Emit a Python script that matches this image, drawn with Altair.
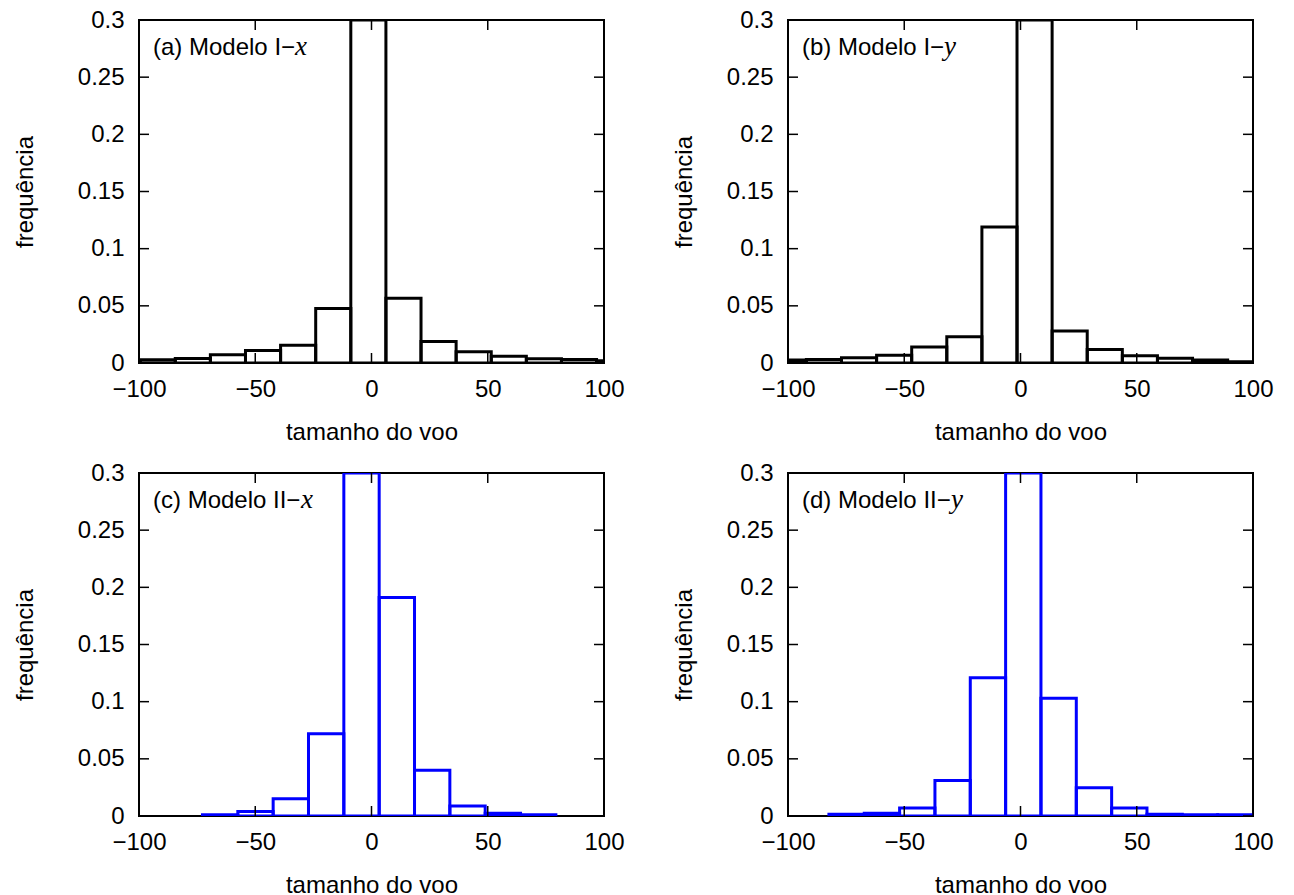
import altair as alt
import pandas as pd

# ---- data (bin left edges, bin width, frequencies) ----
a_left = [-114.6, -99.5, -84.4, -69.3, -54.2, -39.1, -24.0, -8.9, 6.2, 21.3, 36.4, 51.5, 66.6, 81.7, 96.8]
a_width = 15.1
a_freq = [0.002, 0.0029, 0.004, 0.0072, 0.011, 0.0156, 0.0477, 0.3, 0.0566, 0.0188, 0.0098, 0.006, 0.0038, 0.003, 0.002]

b_left = [-107.2, -92.1, -77.0, -61.9, -46.8, -31.7, -16.6, -1.5, 13.6, 28.7, 43.8, 58.9, 74.0, 89.1]
b_width = 15.1
b_freq = [0.0026, 0.0031, 0.0045, 0.0068, 0.014, 0.023, 0.119, 0.3, 0.028, 0.0118, 0.0063, 0.0041, 0.0027, 0.0012]

c_left = [-72.7, -57.5, -42.3, -27.1, -11.9, 3.3, 18.5, 33.7, 48.9, 64.1]
c_width = 15.2
c_freq = [0.001, 0.004, 0.015, 0.072, 0.3, 0.191, 0.040, 0.0087, 0.0023, 0.001]

d_left = [-82.4, -67.2, -52.0, -36.8, -21.6, -6.4, 8.8, 24.0, 39.2, 54.4, 69.6, 84.8]
d_width = 15.2
d_freq = [0.0015, 0.0023, 0.007, 0.031, 0.121, 0.3, 0.103, 0.0247, 0.007, 0.0015, 0.001, 0.001]

x_ticks = [-100, -50, 0, 50, 100]
y_ticks = [0, 0.05, 0.1, 0.15, 0.2, 0.25, 0.3]

labels = ["(a) Modelo I\u2212", "(b) Modelo I\u2212", "(c) Modelo II\u2212", "(d) Modelo II\u2212"]
variables = ["x", "y", "x", "y"]

W, H = 465, 343
TICK = 10
FONT = "Liberation Sans"

XS = alt.Scale(domain=[-100, 100], nice=False, zero=False, padding=0)
YS = alt.Scale(domain=[0, 0.3], nice=False, zero=False, padding=0)
XAX = alt.Axis(values=x_ticks, title="tamanho do voo", labelOverlap=False, labelFlush=False)


def yaxis(title_pad):
    return alt.Axis(values=y_ticks, title="frequência", format="~g",
                    labelOverlap=False, labelFlush=False, titlePadding=title_pad)


def panel(left, width, freq, color, prefix, var, var_x, title_pad):
    yax = yaxis(title_pad)

    def xenc():
        return alt.X("x0:Q", scale=XS, axis=XAX)

    def yenc():
        return alt.Y("f:Q", scale=YS, axis=yax)

    df = pd.DataFrame({"x0": left, "x1": [l + width for l in left], "f": freq})

    bars = alt.Chart(df).mark_rect(
        fillOpacity=0, stroke=color, strokeWidth=3, clip=True
    ).encode(
        x=xenc(),
        x2="x1:Q",
        y=yenc(),
        y2=alt.datum(0),
    )

    xt = pd.DataFrame({"x0": x_ticks})
    yt = pd.DataFrame({"f": y_ticks})
    rule = dict(color="black", strokeWidth=1.5)
    xb = alt.Chart(xt).mark_rule(**rule).encode(
        x=xenc(), y=alt.value(H), y2=alt.value(H - TICK))
    xtp = alt.Chart(xt).mark_rule(**rule).encode(
        x=xenc(), y=alt.value(0), y2=alt.value(TICK))
    yl = alt.Chart(yt).mark_rule(**rule).encode(
        y=yenc(), x=alt.value(0), x2=alt.value(TICK))
    yr = alt.Chart(yt).mark_rule(**rule).encode(
        y=yenc(), x=alt.value(W - TICK), x2=alt.value(W))

    lab = alt.Chart(pd.DataFrame({"t": [prefix]})).mark_text(
        align="left", baseline="middle", font=FONT, fontSize=24, color="black"
    ).encode(text="t:N", x=alt.value(14), y=alt.value(28))
    vlab = alt.Chart(pd.DataFrame({"t": [var]})).mark_text(
        align="left", baseline="middle", font="Liberation Serif", fontStyle="italic",
        fontSize=27, color="black"
    ).encode(text="t:N", x=alt.value(14 + var_x), y=alt.value(27))

    return alt.layer(bars, xb, xtp, yl, yr, lab, vlab).properties(width=W, height=H)


pa = panel(a_left, a_width, a_freq, "black", labels[0], variables[0], 142, 40)
pb = panel(b_left, b_width, b_freq, "black", labels[1], variables[1], 142, 30)
pc = panel(c_left, c_width, c_freq, "#0000ff", labels[2], variables[2], 148, 40)
pd_ = panel(d_left, d_width, d_freq, "#0000ff", labels[3], variables[3], 149, 30)

chart = alt.vconcat(
    alt.hconcat(pa, pb, spacing=45),
    alt.hconcat(pc, pd_, spacing=45),
    spacing=15,
).properties(
    padding={"left": 12, "top": 7, "right": 5, "bottom": 0},
    background="white",
).configure_view(
    stroke="black", strokeWidth=2
).configure_axis(
    labelFont=FONT, labelFontSize=24, labelColor="black",
    titleFont=FONT, titleFontSize=24, titleFontWeight="normal", titleColor="black",
    ticks=False, domain=False, grid=False,
).configure_axisX(
    labelPadding=14, titlePadding=19
).configure_axisY(
    labelPadding=15
)

chart.save("out.html", embed_options={"renderer": "svg", "actions": False})
